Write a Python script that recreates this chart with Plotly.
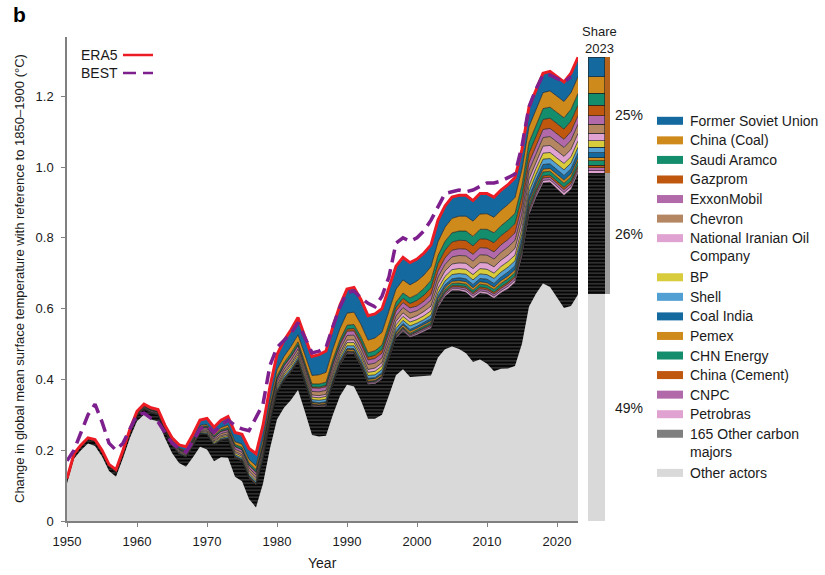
import numpy as np
import plotly.graph_objects as go

# ---------------------------------------------------------------- data
years = list(range(1950, 2024))

# Observed warming relative to 1850-1900 (deg C)
era5 = [0.12, 0.19, 0.215, 0.235, 0.23, 0.20, 0.16, 0.145, 0.20, 0.26,
        0.31, 0.33, 0.32, 0.315, 0.27, 0.235, 0.215, 0.21, 0.245, 0.285,
        0.29, 0.265, 0.285, 0.295, 0.25, 0.245, 0.205, 0.19, 0.27, 0.38,
        0.47, 0.51, 0.54, 0.575, 0.52, 0.465, 0.47, 0.48, 0.55, 0.61,
        0.655, 0.66, 0.625, 0.58, 0.585, 0.60, 0.66, 0.72, 0.745, 0.73,
        0.74, 0.757, 0.78, 0.85, 0.89, 0.915, 0.92, 0.92, 0.905, 0.925,
        0.925, 0.915, 0.935, 0.95, 0.97, 1.05, 1.17, 1.22, 1.265, 1.27,
        1.255, 1.24, 1.265, 1.31]

best = [0.17, 0.20, 0.25, 0.30, 0.33, 0.28, 0.22, 0.20, 0.22, 0.26,
        0.30, 0.305, 0.29, 0.28, 0.25, 0.22, 0.205, 0.195, 0.225, 0.26,
        0.27, 0.25, 0.27, 0.285, 0.27, 0.26, 0.255, 0.29, 0.33, 0.44,
        0.49, 0.51, 0.53, 0.56, 0.52, 0.475, 0.48, 0.49, 0.55, 0.605,
        0.645, 0.65, 0.63, 0.615, 0.605, 0.635, 0.69, 0.785, 0.80, 0.79,
        0.80, 0.82, 0.85, 0.89, 0.925, 0.93, 0.935, 0.93, 0.935, 0.945,
        0.955, 0.955, 0.96, 0.97, 0.98, 1.06, 1.17, 1.22, 1.26, 1.26,
        1.25, 1.24, 1.255, None]

# Contributions of carbon majors (millikelvin)
other_majors_165 = [10, 10, 11, 11, 12, 12, 13, 13, 14, 15,
                    16, 17, 18, 19, 20, 22, 25, 28, 32, 37,
                    42, 45, 48, 51, 54, 57, 60, 63, 67, 71,
                    74, 76, 78, 79, 80, 82, 83, 84, 85, 87,
                    89, 92, 95, 97, 99, 101, 103, 105, 108, 112,
                    118, 126, 134, 142, 150, 158, 165, 172, 180, 188,
                    197, 206, 215, 225, 236, 248, 260, 272, 284, 296,
                    307, 318, 330, 342]
former_soviet_union = [1, 1, 1, 2, 2, 2, 2, 3, 3, 3,
                       4, 4, 5, 5, 6, 7, 9, 11, 13, 15,
                       17, 19, 21, 24, 26, 28, 31, 34, 37, 40,
                       43, 45, 47, 49, 51, 54, 57, 60, 63, 66,
                       68, 70, 70, 69, 68, 67, 66, 65, 64, 63,
                       62, 62, 61, 61, 60, 60, 59, 59, 58, 58,
                       57, 57, 57, 56, 56, 56, 56, 56, 55, 55,
                       55, 55, 55, 55]
china_coal = [0, 0, 0, 0, 0, 0, 0, 0, 1, 1,
              1, 1, 1, 1, 1, 2, 2, 3, 3, 4,
              4, 5, 6, 7, 8, 9, 10, 11, 13, 15,
              17, 18, 19, 20, 22, 24, 26, 28, 30, 32,
              34, 35, 35, 36, 36, 36, 37, 37, 37, 37,
              38, 38, 39, 39, 40, 41, 42, 42, 43, 43,
              44, 44, 44, 44, 45, 45, 45, 45, 45, 46,
              46, 46, 47, 47]
saudi_aramco = [0, 0, 0, 0, 0, 0, 0, 0, 1, 1,
                1, 1, 1, 1, 1, 1, 2, 2, 3, 3,
                3, 4, 4, 5, 5, 6, 6, 6, 7, 7,
                7, 7, 8, 8, 8, 8, 9, 9, 10, 10,
                11, 11, 12, 12, 13, 13, 14, 14, 15, 16,
                17, 19, 21, 23, 25, 26, 26, 27, 27, 27,
                28, 28, 28, 29, 29, 30, 30, 30, 31, 31,
                32, 32, 33, 33]
gazprom = [0, 0, 0, 0, 0, 0, 0, 0, 0, 0,
           0, 0, 0, 0, 0, 0, 0, 0, 0, 0,
           1, 1, 1, 1, 1, 1, 1, 2, 2, 2,
           2, 2, 2, 3, 3, 3, 3, 4, 4, 5,
           6, 7, 8, 8, 9, 10, 10, 11, 12, 12,
           16, 17, 19, 21, 22, 23, 24, 24, 24, 25,
           25, 26, 26, 26, 26, 27, 27, 28, 28, 29,
           29, 29, 30, 30]
exxonmobil = [1, 1, 1, 1, 1, 1, 1, 1, 1, 1,
              1, 2, 2, 2, 2, 2, 3, 3, 3, 4,
              5, 5, 6, 6, 7, 7, 7, 7, 8, 8,
              8, 9, 9, 9, 9, 10, 10, 10, 11, 11,
              12, 12, 12, 13, 13, 13, 14, 14, 14, 14,
              13, 14, 16, 17, 18, 19, 19, 19, 19, 20,
              20, 20, 21, 21, 21, 22, 22, 22, 23, 23,
              23, 23, 24, 24]
chevron = [1, 1, 1, 1, 1, 1, 1, 1, 1, 1,
           2, 2, 2, 2, 2, 3, 3, 3, 4, 4,
           5, 5, 6, 6, 7, 7, 8, 8, 8, 9,
           9, 9, 10, 10, 10, 10, 11, 11, 12, 12,
           13, 13, 13, 14, 14, 14, 15, 15, 15, 16,
           14, 15, 17, 18, 19, 20, 21, 21, 21, 22,
           22, 22, 22, 23, 23, 23, 24, 24, 24, 25,
           25, 25, 26, 26]
national_iranian_oil = [0, 0, 0, 0, 0, 0, 0, 0, 0, 1,
                        1, 1, 1, 1, 1, 1, 2, 2, 2, 2,
                        3, 3, 3, 4, 4, 4, 5, 5, 5, 5,
                        5, 5, 5, 6, 6, 6, 6, 6, 7, 7,
                        7, 8, 8, 8, 9, 9, 9, 10, 10, 10,
                        11, 12, 13, 14, 15, 16, 16, 17, 17, 17,
                        18, 18, 18, 18, 19, 19, 19, 19, 20, 20,
                        20, 20, 21, 21]
bp = [1, 1, 1, 1, 1, 1, 1, 1, 1, 1,
      1, 1, 1, 1, 1, 2, 2, 2, 2, 3,
      3, 4, 4, 4, 5, 5, 5, 5, 6, 6,
      6, 6, 7, 7, 7, 7, 7, 8, 8, 8,
      9, 9, 9, 9, 10, 10, 10, 10, 11, 11,
      10, 11, 12, 13, 13, 14, 14, 14, 15, 15,
      15, 15, 16, 16, 16, 16, 17, 17, 17, 17,
      17, 18, 18, 18]
shell = [0, 0, 0, 0, 1, 1, 1, 1, 1, 1,
         1, 1, 1, 1, 1, 2, 2, 2, 2, 2,
         3, 3, 3, 4, 4, 4, 4, 5, 5, 5,
         5, 6, 6, 6, 6, 6, 7, 7, 7, 7,
         8, 8, 8, 8, 8, 9, 9, 9, 9, 10,
         9, 9, 10, 10, 11, 12, 12, 13, 13, 13,
         13, 14, 14, 14, 14, 14, 15, 15, 15, 15,
         15, 16, 16, 16]
coal_india = [0, 0, 0, 0, 0, 0, 0, 0, 0, 0,
              0, 0, 0, 0, 0, 0, 0, 0, 0, 0,
              0, 0, 0, 0, 0, 1, 1, 1, 1, 1,
              1, 1, 1, 1, 1, 2, 2, 2, 2, 2,
              2, 3, 3, 3, 3, 4, 4, 4, 4, 5,
              5, 5, 6, 6, 7, 7, 8, 8, 9, 9,
              10, 10, 10, 11, 11, 11, 12, 12, 13, 13,
              13, 13, 14, 14]
pemex = [0, 0, 0, 0, 0, 0, 0, 0, 0, 0,
         0, 0, 1, 1, 1, 1, 1, 1, 1, 1,
         2, 2, 2, 2, 2, 2, 3, 3, 3, 3,
         3, 3, 3, 4, 4, 4, 4, 4, 4, 4,
         5, 5, 5, 5, 5, 5, 5, 5, 6, 6,
         5, 5, 5, 6, 6, 6, 7, 7, 7, 7,
         7, 7, 8, 8, 8, 8, 8, 8, 8, 8,
         9, 9, 9, 9]
chn_energy = [0, 0, 0, 0, 0, 0, 0, 0, 0, 0,
              0, 0, 0, 0, 0, 0, 0, 0, 0, 0,
              0, 0, 0, 0, 0, 0, 0, 0, 1, 1,
              1, 1, 1, 1, 1, 1, 1, 1, 1, 1,
              1, 2, 2, 2, 2, 2, 2, 2, 3, 3,
              4, 4, 5, 5, 6, 6, 7, 7, 7, 8,
              8, 8, 9, 9, 9, 10, 10, 10, 11, 11,
              11, 11, 12, 12]
china_cement = [0, 0, 0, 0, 0, 0, 0, 0, 0, 0,
                0, 0, 0, 0, 0, 0, 0, 0, 0, 0,
                0, 0, 0, 0, 0, 0, 0, 0, 0, 0,
                0, 0, 0, 0, 1, 1, 1, 1, 1, 1,
                1, 1, 1, 1, 1, 1, 1, 1, 2, 2,
                2, 3, 3, 3, 3, 4, 4, 4, 4, 5,
                5, 5, 5, 5, 5, 6, 6, 6, 6, 6,
                6, 7, 7, 7]
cnpc = [0, 0, 0, 0, 0, 0, 0, 0, 0, 0,
        0, 0, 0, 0, 0, 0, 0, 0, 0, 0,
        0, 0, 0, 1, 1, 1, 1, 1, 1, 1,
        1, 1, 1, 1, 1, 2, 2, 2, 2, 2,
        2, 2, 2, 3, 3, 3, 3, 3, 3, 3,
        4, 4, 4, 5, 5, 5, 5, 6, 6, 6,
        6, 6, 6, 7, 7, 7, 7, 7, 7, 7,
        8, 8, 8, 8]
petrobras = [0, 0, 0, 0, 0, 0, 0, 0, 0, 0,
             0, 0, 0, 0, 0, 0, 0, 0, 0, 0,
             0, 0, 1, 1, 1, 1, 1, 1, 1, 1,
             1, 1, 1, 1, 2, 2, 2, 2, 2, 2,
             2, 2, 2, 3, 3, 3, 3, 3, 3, 3,
             4, 4, 4, 5, 5, 5, 5, 6, 6, 6,
             6, 6, 6, 7, 7, 7, 7, 7, 7, 7,
             7, 8, 8, 8]

# Named majors, top of the stack first (legend order)
majors = [
    ("Former Soviet Union", former_soviet_union, "#14699f"),
    ("China (Coal)", china_coal, "#cf8a1c"),
    ("Saudi Aramco", saudi_aramco, "#138d6b"),
    ("Gazprom", gazprom, "#c0570f"),
    ("ExxonMobil", exxonmobil, "#b169aa"),
    ("Chevron", chevron, "#b48762"),
    ("National Iranian Oil<br>Company", national_iranian_oil, "#e0a2d1"),
    ("BP", bp, "#d8cb3c"),
    ("Shell", shell, "#529fd3"),
    ("Coal India", coal_india, "#14699f"),
    ("Pemex", pemex, "#cf8a1c"),
    ("CHN Energy", chn_energy, "#138d6b"),
    ("China (Cement)", china_cement, "#c0570f"),
    ("CNPC", cnpc, "#b169aa"),
    ("Petrobras", petrobras, "#e0a2d1"),
]
OTHER165_NAME = "165 Other carbon<br>majors"
OTHER_ACTORS_NAME = "Other actors"
OTHER165_SWATCH = "#7f7f7f"
OTHER_ACTORS_COLOR = "#d9d9d9"

for _, vals, _ in majors:
    assert len(vals) == len(years)
assert len(other_majors_165) == len(years) and len(era5) == len(years)

# ---------------------------------------------------------------- derived series
era5_arr = np.array(era5, dtype=float)
to_degc = lambda v: np.array(v, dtype=float) / 1000.0
named = [(n, to_degc(v), c) for n, v, c in majors]
others165 = to_degc(other_majors_165)
majors_total = others165 + sum(v for _, v, _ in named)
other_actors = era5_arr - majors_total

# ---------------------------------------------------------------- figure
W, H = 825, 575
FONT = "Liberation Sans, Arial, Helvetica, sans-serif"
TXT = "#1a1a1a"
AX = "#808080"
STRIPES = dict(shape="-", bgcolor="#050505", fgcolor="#6f6f6f",
               size=3.5, solidity=0.2)


def px(x):
    return x / W


def py(y):
    return 1 - y / H


def label(x, y, text, size=14, xanchor="center", yanchor="middle", **kw):
    return dict(x=px(x), y=py(y), xref="paper", yref="paper",
                xanchor=xanchor, yanchor=yanchor, text=text, showarrow=False,
                font=dict(size=size, color=kw.pop("color", TXT), family=FONT),
                **kw)


fig = go.Figure()

# stacked contributions: other actors at the bottom, then the majors
fig.add_trace(go.Scatter(
    x=years, y=other_actors, stackgroup="warming", mode="lines",
    line=dict(width=0, color=OTHER_ACTORS_COLOR), fillcolor=OTHER_ACTORS_COLOR,
    hoverinfo="skip", showlegend=False))
fig.add_trace(go.Scatter(
    x=years, y=others165, stackgroup="warming", mode="lines",
    line=dict(width=0.5, color="#000000"), fillcolor="#050505",
    fillpattern=STRIPES, hoverinfo="skip", showlegend=False))
for name, vals, color in reversed(named):
    fig.add_trace(go.Scatter(
        x=years, y=vals, stackgroup="warming", mode="lines",
        line=dict(width=0.7, color="#1e1e1e"), fillcolor=color,
        hoverinfo="skip", showlegend=False, name=name))

fig.add_trace(go.Scatter(
    x=years, y=era5, mode="lines", line=dict(color="#ec1c24", width=3),
    hoverinfo="skip", showlegend=False, name="ERA5"))
fig.add_trace(go.Scatter(
    x=years, y=best, mode="lines",
    line=dict(color="#7e1f8e", width=3.5, dash="13px,7px"),
    hoverinfo="skip", showlegend=False, name="BEST"))

# share bar for the last year
i_last = len(years) - 1
total_last = era5_arr[i_last]
other_last = other_actors[i_last]
o165_last = others165[i_last]
named_last = [(n, v[i_last], c) for n, v, c in named]
named_sum_last = sum(v for _, v, _ in named_last)

BAR_X, BAR_W = 0.385, 0.77
TAB_X, TAB_W = 0.885, 0.23
fig.add_trace(go.Bar(x=[BAR_X], y=[other_last], width=[BAR_W], xaxis="x2",
                     marker=dict(color=OTHER_ACTORS_COLOR, line=dict(width=0)),
                     hoverinfo="skip", showlegend=False))
fig.add_trace(go.Bar(x=[BAR_X], y=[o165_last], width=[BAR_W], xaxis="x2",
                     marker=dict(color="#050505", line=dict(width=0),
                                 pattern=STRIPES),
                     hoverinfo="skip", showlegend=False))
for name, v, color in reversed(named_last):
    fig.add_trace(go.Bar(x=[BAR_X], y=[v], width=[BAR_W], xaxis="x2",
                         marker=dict(color=color,
                                     line=dict(width=0.6, color="#1e1e1e")),
                         hoverinfo="skip", showlegend=False))
# side tabs marking the two groups of majors
fig.add_trace(go.Bar(x=[TAB_X], y=[other_last], width=[TAB_W], xaxis="x2",
                     marker=dict(color="rgba(0,0,0,0)", line=dict(width=0)),
                     hoverinfo="skip", showlegend=False))
fig.add_trace(go.Bar(x=[TAB_X], y=[o165_last], width=[TAB_W], xaxis="x2",
                     marker=dict(color="#9b9b9b", line=dict(width=0)),
                     hoverinfo="skip", showlegend=False))
fig.add_trace(go.Bar(x=[TAB_X], y=[named_sum_last], width=[TAB_W], xaxis="x2",
                     marker=dict(color="#b5631c", line=dict(width=0)),
                     hoverinfo="skip", showlegend=False))

annotations = []
shapes = []

# share percentages
for base, val in [(other_last + o165_last, named_sum_last),
                  (other_last, o165_last),
                  (0.0, other_last)]:
    annotations.append(dict(
        x=px(613), xref="paper", xanchor="left",
        y=base + val / 2, yref="y", yanchor="middle",
        text=f"{round(100 * val / total_last):d}%", showarrow=False,
        font=dict(size=14, color=TXT, family=FONT)))

annotations.append(label(599, 32, "Share", size=13))
annotations.append(label(599, 48, str(years[-1]), size=13))

# panel letter and axis titles
annotations.append(label(19, 15, "<b>b</b>", size=21, color="#000"))
annotations.append(label(
    19, 279,
    "Change in global mean surface temperature with reference to 1850\u20131900 (\u00b0C)",
    size=13, textangle=-90))
annotations.append(label(322, 563, "Year", size=14))

# line legend (top left)
for yy, text, color, dash in [(55, "ERA5", "#ec1c24", "solid"),
                              (73, "BEST", "#7e1f8e", "13px,7px")]:
    annotations.append(label(79, yy, text, size=14, xanchor="left"))
    shapes.append(dict(type="line", xref="paper", yref="paper",
                       x0=px(123), x1=px(153), y0=py(yy), y1=py(yy),
                       line=dict(color=color, width=2.5, dash=dash)))

# area legend (right)
legend_items = [(n, c) for n, _, c in named] + [
    (OTHER165_NAME, OTHER165_SWATCH), (OTHER_ACTORS_NAME, OTHER_ACTORS_COLOR)]
row_y0, row_h = 120.8, 19.56
line_idx = 0
for name, color in legend_items:
    yy = row_y0 + row_h * line_idx
    n_lines = name.count("<br>") + 1
    shapes.append(dict(type="rect", xref="paper", yref="paper",
                       x0=px(657), x1=px(683), y0=py(yy - 4), y1=py(yy + 4),
                       fillcolor=color, line=dict(width=0)))
    annotations.append(label(688, yy + (n_lines - 1) * 17.5 / 2, name,
                             size=14, xanchor="left", align="left"))
    line_idx += n_lines

Y0_PX, YTOP_PX = 521, 37
Y_PER_UNIT = 354.0
y_top = (Y0_PX - YTOP_PX) / Y_PER_UNIT

axis_common = dict(showgrid=False, zeroline=False, showline=True,
                   linecolor=AX, linewidth=1.5, ticks="outside", ticklen=4,
                   tickwidth=1.2, tickcolor=AX, automargin=False,
                   tickfont=dict(size=13, color=TXT, family=FONT))

fig.update_layout(
    template="none",
    width=W, height=H, margin=dict(l=0, r=0, t=0, b=0, pad=0, autoexpand=False),
    paper_bgcolor="white", plot_bgcolor="white",
    barmode="stack", showlegend=False,
    font=dict(family=FONT, color=TXT, size=13),
    xaxis=dict(domain=[px(67), px(578)], range=[years[0], years[-1]],
               tickvals=list(range(1950, 2021, 10)), ticklabelstandoff=4,
               **axis_common),
    xaxis2=dict(domain=[px(588), px(610)], range=[0, 1], visible=False,
                anchor="y", automargin=False),
    yaxis=dict(domain=[py(Y0_PX), py(YTOP_PX)], range=[0, y_top],
               tickvals=[0, 0.2, 0.4, 0.6, 0.8, 1.0, 1.2],
               ticktext=["0", "0.2", "0.4", "0.6", "0.8", "1.0", "1.2"],
               ticklabelstandoff=5, **axis_common),
    annotations=annotations, shapes=shapes,
)

fig.write_html("out.html")
